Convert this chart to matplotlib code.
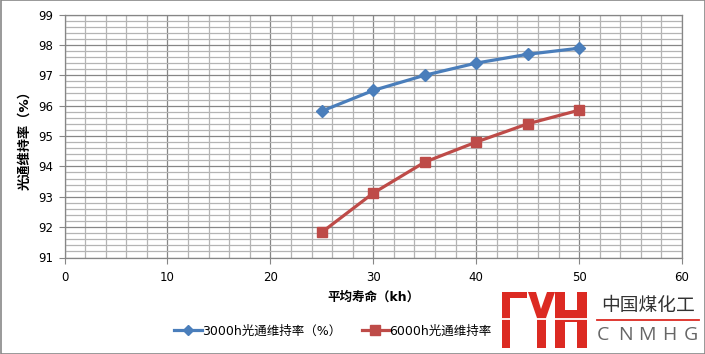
import matplotlib.pyplot as plt
from matplotlib.patches import Rectangle, Polygon
from matplotlib.lines import Line2D
from matplotlib.ticker import MultipleLocator

plt.rcParams['font.family'] = ['DejaVu Sans', 'Noto Sans CJK SC']

# data
life_kh = [25, 30, 35, 40, 45, 50]
keep_3000h = [95.82, 96.5, 97.0, 97.4, 97.69, 97.89]
keep_6000h = [91.83, 93.12, 94.14, 94.8, 95.4, 95.85]
label_3000h = "3000h光通维持率（%）"
label_6000h = "6000h光通维持率"
x_title = "平均寿命（kh）"
y_title = "光通维持率（%）"

W, H = 705, 354
fig = plt.figure(figsize=(W / 100, H / 100), dpi=100)


def fx(px):
    return px / W


def fy(py):
    return 1 - py / H


ax = fig.add_axes([fx(64.5), fy(257.5), fx(682) - fx(64.5), fy(14.5) - fy(257.5)])

blue = '#4a7ebb'
red = '#be4b48'
ax.plot(life_kh, keep_3000h, color=blue, lw=2.3, marker='D', ms=6.5,
        label=label_3000h, zorder=3)
ax.plot(life_kh, keep_6000h, color=red, lw=2.3, marker='s', ms=7.5,
        label=label_6000h, zorder=3)

ax.set_xlim(0, 60)
ax.set_ylim(91, 99)
ax.xaxis.set_major_locator(MultipleLocator(10))
ax.xaxis.set_minor_locator(MultipleLocator(2))
ax.yaxis.set_major_locator(MultipleLocator(1))
ax.yaxis.set_minor_locator(MultipleLocator(0.2))
ax.grid(which='minor', color='#b4b4b4', lw=0.9)
ax.grid(which='major', color='#868686', lw=0.9)
ax.set_axisbelow(True)
ax.tick_params(which='minor', length=0)
ax.tick_params(which='major', direction='out', length=4, color='#868686',
               labelsize=8.5, pad=6)
ax.tick_params(axis='y', pad=4)
for s in ax.spines.values():
    s.set_color('#868686')
    s.set_linewidth(0.9)

fig.text(fx(373), fy(297), x_title, ha='center', va='center',
         fontsize=9, fontweight='bold')
fig.text(fx(25), fy(137), y_title, ha='center', va='center',
         fontsize=9.5, fontweight='bold', rotation=90)

handles = [Line2D([], [], color=blue, lw=2.3, marker='D', ms=5.5),
           Line2D([], [], color=red, lw=2.3, marker='s', ms=7)]
fig.legend(handles, [label_3000h, label_6000h], loc='center',
           bbox_to_anchor=(fx(333), fy(331)), ncol=2, frameon=False,
           fontsize=9, handlelength=2.2, handletextpad=0.05,
           columnspacing=1.6)

# outer chart border
fig.patches.append(Rectangle((fx(0.5), fy(353.5)), fx(704), fy(0.5) - fy(353.5),
                             transform=fig.transFigure, fill=False,
                             edgecolor='#878787', lw=1.2))

# logo
logo_red = '#dc2a22'


def poly(pts, color):
    fig.patches.append(Polygon([(fx(a), fy(b)) for a, b in pts], closed=True,
                               transform=fig.transFigure, facecolor=color,
                               edgecolor='none'))


poly([(502, 292), (527, 292), (527, 298), (510, 298), (510, 348), (502, 348)], logo_red)
poly([(528, 292), (536, 292), (541, 309), (547, 292), (555, 292), (546, 318),
      (546, 348), (537, 348), (537, 318)], logo_red)
poly([(555, 292), (565, 292), (565, 310), (577, 310), (577, 292), (587, 292),
      (587, 348), (577, 348), (577, 322), (565, 322), (565, 348), (555, 348)], logo_red)
fig.lines.append(Line2D([fx(498), fx(592)], [fy(318.5), fy(318.5)],
                        transform=fig.transFigure, color='white', lw=1.3))

fig.text(fx(648), fy(306), "中国煤化工", ha='center', va='center',
         fontsize=13.5, color='#333333', family=['Noto Sans CJK SC'])
fig.lines.append(Line2D([fx(597), fx(699)], [fy(319.5), fy(319.5)],
                        transform=fig.transFigure, color=logo_red, lw=1.3))
for i, ch in enumerate("CNMHG"):
    fig.text(fx(603 + i * 22), fy(335), ch, ha='center', va='center',
             fontsize=14, color='#666666', family=['Open Sans'])

fig.savefig('out.png', dpi=100)
